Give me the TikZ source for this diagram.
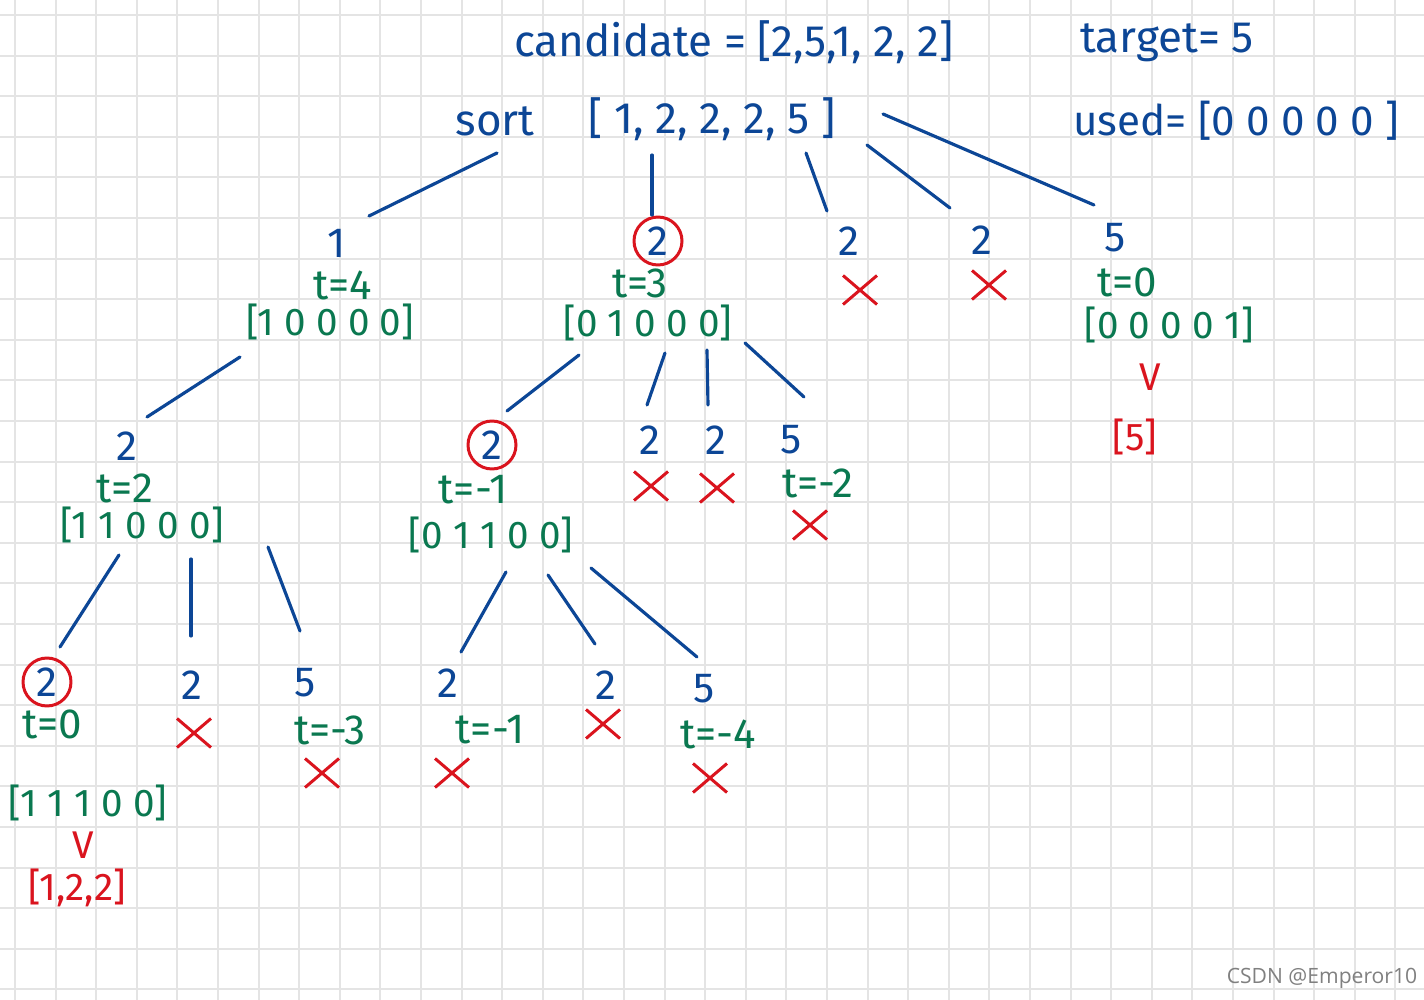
\documentclass[tikz,border=0pt]{standalone}
\usepackage{fontspec}
\setmainfont{Fira Sans}
\newfontfamily\wmfont{Open Sans}
\usetikzlibrary{shapes.misc}
\definecolor{ink}{RGB}{12,70,150}
\definecolor{leaf}{RGB}{10,120,80}
\definecolor{redink}{RGB}{218,20,30}
\definecolor{paper}{RGB}{228,228,228}

\begin{document}
\begin{tikzpicture}[x=0.02cm, y=-0.02cm,
    gridline/.style={draw=paper, line width=1.1pt},
    branch/.style={draw=ink, line width=1.8pt, line cap=round},
    head/.style={text=ink, font=\fontsize{25}{27}\selectfont, inner sep=0pt},
    val/.style={text=ink, font=\fontsize{24}{26}\selectfont, inner sep=0pt},
    tval/.style={text=leaf, font=\fontsize{24}{26}\selectfont, inner sep=0pt},
    bits/.style={text=leaf, font=\fontsize{22}{24}\selectfont, inner sep=0pt},
    picked/.style={circle, draw=redink, line width=1.7pt, minimum size=0.96cm},
    wrong/.style={cross out, draw=redink, line width=1.7pt, minimum width=0.62cm, minimum height=0.52cm, inner sep=0pt},
    ok/.style={text=redink, font=\fontsize{22}{24}\selectfont, inner sep=0pt}
]
% paper
\fill[white] (0,0) rectangle (1424,1000);
\useasboundingbox (0,0) rectangle (1424,1000);
\foreach \i in {0,...,34}
    \draw[gridline] ({15+40.6*\i},0) -- ({15+40.6*\i},1000);
\foreach \j in {0,...,24}
    \draw[gridline] (0,{15+40.6*\j}) -- (1424,{15+40.6*\j});

% header
\node[head] (cand) at (734,42) {candidate = [2,5,1, 2, 2]};
\node[head] (target) at (1167,42) {target= 5};
\node[head] (sortlbl) at (495,121) {sort};
\node[head] (sorted) at (712,119) {[ 1, 2, 2, 2, 5 ]};
\node[head, font=\fontsize{24}{26}\selectfont] (used) at (1236,121) {used= [0 0 0 0 0 ]};

% first level
\node[val] (a-val) at (337,243) {1};
\node[tval] (a-t) at (343,285) {t=4};
\node[bits] (a-arr) at (330,322) {[1 0 0 0 0]};
\node[val, picked] (b-val) at (658,241) {2};
\node[tval] (b-t) at (640,283) {t=3};
\node[bits] (b-arr) at (648,323) {[0 1 0 0 0]};
\node[val] (c-val) at (849,241) {2};
\node[wrong] (c-x) at (860,290) {};
\node[val] (d-val) at (982,240) {2};
\node[wrong] (d-x) at (989,285) {};
\node[val] (e-val) at (1115,238) {5};
\node[tval] (e-t) at (1127,282) {t=0};
\node[bits] (e-arr) at (1169,325) {[0 0 0 0 1]};
\node[ok] (e-ok) at (1150,377) {V};
\node[ok] (e-res) at (1135,437) {[5]};

% second level
\node[val] (aa-val) at (127,446) {2};
\node[tval] (aa-t) at (125,488) {t=2};
\node[bits] (aa-arr) at (142,525) {[1 1 0 0 0]};
\node[val, picked] (ba-val) at (492,445) {2};
\node[tval] (ba-t) at (473,490) {t=-1};
\node[bits] (ba-arr) at (491,535) {[0 1 1 0 0]};
\node[val] (bb-val) at (650,440) {2};
\node[wrong] (bb-x) at (651,486) {};
\node[val] (bc-val) at (716,440) {2};
\node[wrong] (bc-x) at (717,488) {};
\node[val] (bd-val) at (791,440) {5};
\node[tval] (bd-t) at (818,483) {t=-2};
\node[wrong] (bd-x) at (810,525) {};

% third level
\node[val, picked] (aaa-val) at (47,682) {2};
\node[tval] (aaa-t) at (52,724) {t=0};
\node[bits] (aaa-arr) at (88,803) {[1 1 1 0 0]};
\node[ok] (aaa-ok) at (83,845) {V};
\node[ok] (aaa-res) at (77,888) {[1,2,2]};
\node[val] (aab-val) at (192,685) {2};
\node[wrong] (aab-x) at (194,733) {};
\node[val] (aac-val) at (305,683) {5};
\node[tval] (aac-t) at (330,730) {t=-3};
\node[wrong] (aac-x) at (322,773) {};
\node[val] (baa-val) at (448,683) {2};
\node[tval] (baa-t) at (490,730) {t=-1};
\node[wrong] (baa-x) at (452,773) {};
\node[val] (bab-val) at (606,685) {2};
\node[wrong] (bab-x) at (603,724) {};
\node[val] (bac-val) at (704,689) {5};
\node[tval] (bac-t) at (718,734) {t=-4};
\node[wrong] (bac-x) at (710,778) {};

% stroke ends
\coordinate (r-out1) at (497,153); \coordinate (a-in) at (369,216);
\coordinate (r-out2) at (652,155); \coordinate (b-in) at (652,215);
\coordinate (r-out3) at (806,153); \coordinate (c-in) at (827,211);
\coordinate (r-out4) at (867,145); \coordinate (d-in) at (950,208);
\coordinate (r-out5) at (883,114); \coordinate (e-in) at (1094,205);
\coordinate (a-out1) at (240,357); \coordinate (aa-in) at (147,417);
\coordinate (b-out1) at (579,355); \coordinate (ba-in) at (507,411);
\coordinate (b-out2) at (665,353); \coordinate (bb-in) at (647,405);
\coordinate (b-out3) at (707,350); \coordinate (bc-in) at (708,405);
\coordinate (b-out4) at (745,343); \coordinate (bd-in) at (804,397);
\coordinate (aa-out1) at (119,555); \coordinate (aaa-in) at (60,647);
\coordinate (aa-out2) at (191,559); \coordinate (aab-in) at (191,636);
\coordinate (aa-out3) at (268,547); \coordinate (aac-in) at (300,631);
\coordinate (ba-out1) at (506,572); \coordinate (baa-in) at (461,652);
\coordinate (ba-out2) at (548,575); \coordinate (bab-in) at (595,644);
\coordinate (ba-out3) at (591,568); \coordinate (bac-in) at (697,657);

\draw[branch] (r-out1) -- (a-in);
\draw[branch] (r-out2) -- (b-in);
\draw[branch] (r-out3) -- (c-in);
\draw[branch] (r-out4) -- (d-in);
\draw[branch] (r-out5) -- (e-in);
\draw[branch] (a-out1) -- (aa-in);
\draw[branch] (b-out1) -- (ba-in);
\draw[branch] (b-out2) -- (bb-in);
\draw[branch] (b-out3) -- (bc-in);
\draw[branch] (b-out4) -- (bd-in);
\draw[branch] (aa-out1) -- (aaa-in);
\draw[branch] (aa-out2) -- (aab-in);
\draw[branch] (aa-out3) -- (aac-in);
\draw[branch] (ba-out1) -- (baa-in);
\draw[branch] (ba-out2) -- (bab-in);
\draw[branch] (ba-out3) -- (bac-in);

\node[text=gray, font=\wmfont\fontsize{12}{14}\selectfont] (wm) at (1322,978) {CSDN @Emperor10};
\end{tikzpicture}
\end{document}
